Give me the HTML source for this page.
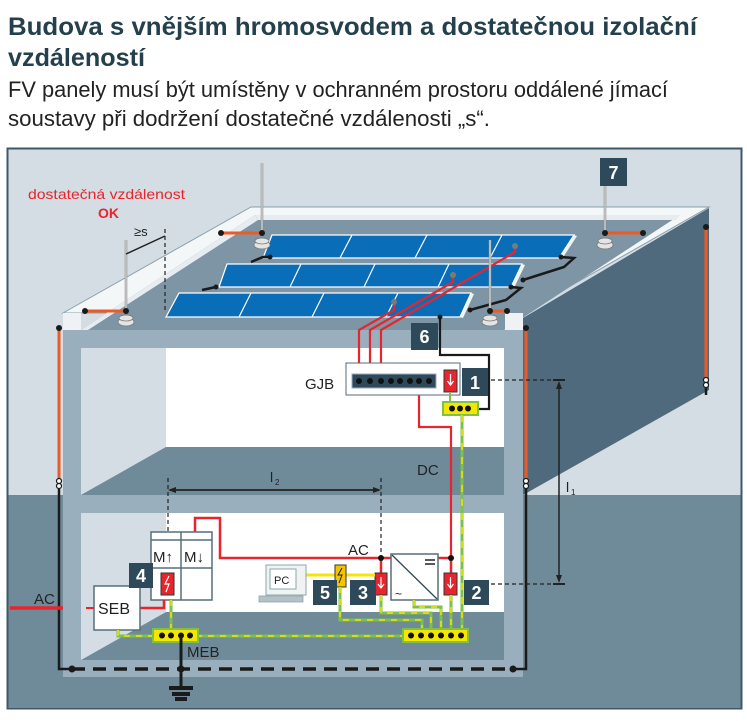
<!DOCTYPE html>
<html><head><meta charset="utf-8"><style>html,body{margin:0;padding:0;background:#fff}svg{display:block}</style></head>
<body>
<svg width="747" height="721" viewBox="0 0 747 721" xmlns="http://www.w3.org/2000/svg" font-family="Liberation Sans, sans-serif">
<text x="8" y="35" font-size="25" font-weight="bold" fill="#24404c" textLength="689" lengthAdjust="spacingAndGlyphs">Budova s vnějším hromosvodem a dostatečnou izolační</text>
<text x="8" y="66" font-size="25" font-weight="bold" fill="#24404c" textLength="137" lengthAdjust="spacingAndGlyphs">vzdáleností</text>
<text x="8" y="97" font-size="22" fill="#222" textLength="660" lengthAdjust="spacingAndGlyphs">FV panely musí být umístěny v ochranném prostoru oddálené jímací</text>
<text x="8" y="126" font-size="22" fill="#222" textLength="482" lengthAdjust="spacingAndGlyphs">soustavy při dodržení dostatečné vzdálenosti „s“.</text>

<rect x="7.5" y="148.5" width="734" height="560" fill="#d3dde3" stroke="#3f5868" stroke-width="2"/>
<rect x="8.5" y="495" width="732" height="213" fill="#6f8a99"/>
<polygon points="523,318 709,208 709,390 523,495" fill="#4e6a7c"/>
<polygon points="63,313 251,207 709,207 523,313" fill="#f4f7f8" stroke="#8aa0ad" stroke-width="1"/>
<polygon points="81,330 255,215 680,215 504,330" fill="#7d95a4"/>
<polygon points="81,330 255,215 258,220 88,330" fill="#e6ecef"/>
<polygon points="255,215 680,215 676,220 258,220" fill="#e6ecef"/>
<rect x="63" y="330" width="460" height="347" fill="#9aafbd"/>
<rect x="63" y="313" width="18" height="17" fill="#eef2f4"/>
<rect x="505" y="313" width="18" height="17" fill="#eef2f4"/>
<rect x="81" y="348" width="423" height="99" fill="#fff"/>
<polygon points="81,348 166,348 166,447 81,495" fill="#d3dde3"/>
<polygon points="81,495 166,447 504,447 504,495" fill="#6f8a99"/>
<rect x="81" y="513" width="423" height="147" fill="#fff"/>
<polygon points="81,513 166,513 166,612 81,660" fill="#d3dde3"/>
<polygon points="81,660 166,612 504,612 504,660" fill="#6f8a99"/>

<g fill="#f0f4f6"><polygon points="574,235 577,236 562,259 559,258"/><polygon points="522,264 525,265 514,288 511,287"/><polygon points="471,293 474,294 463,318 460,317"/></g>
<g stroke="#fff" stroke-width="1.2">
<polygon points="272,235 574,235 559,258 263,258" fill="#0a6db8"/>
<polygon points="227,264 522,264 511,287 219,287" fill="#0a6db8"/>
<polygon points="179,293 471,293 460,317 166,317" fill="#0a6db8"/>
<line x1="352" y1="235" x2="340" y2="258"/><line x1="427" y1="235" x2="415" y2="258"/><line x1="502" y1="235" x2="490" y2="258"/>
<line x1="301" y1="264" x2="290" y2="287"/><line x1="375" y1="264" x2="364" y2="287"/><line x1="449" y1="264" x2="438" y2="287"/>
<line x1="251" y1="293" x2="239" y2="317"/><line x1="324" y1="293" x2="312" y2="317"/><line x1="398" y1="293" x2="386" y2="317"/>
</g>
<g fill="none" stroke="#1a1a1a" stroke-width="2.5">
<polyline points="251,262 263,257 270,257"/>
<polyline points="202,290 216,287"/>
<polyline points="561,257 574,258 564,267 523,280"/>
<polyline points="511,287 521,288 506,300 470,310"/>
</g>
<g fill="#1a1a1a"><circle cx="270" cy="257" r="2.5"/><circle cx="216" cy="287" r="2.5"/><circle cx="561" cy="257" r="2.5"/><circle cx="523" cy="280" r="2.5"/><circle cx="511" cy="287" r="2.5"/><circle cx="470" cy="310" r="2.5"/></g>

<g fill="none" stroke="#e8242c" stroke-width="2.2">
<polyline points="515,246 515,252 381,330 381,381"/>
<polyline points="453,275 453,282 370,330 370,381"/>
<polyline points="394,302 394,310 359,330 359,381"/>
<polyline points="419,381 419,427 451,427 451,558"/>
<polyline points="429,381 429,369 450,369 450,372"/>
</g>
<g fill="#7a7a7a"><circle cx="515" cy="246" r="3"/><circle cx="453" cy="275" r="3"/><circle cx="394" cy="302" r="3"/></g>

<g stroke="#888" stroke-width="2.5"><line x1="126" y1="240" x2="126" y2="313"/><line x1="262" y1="163" x2="262" y2="233"/><line x1="605" y1="163" x2="605" y2="233"/><line x1="490" y1="240" x2="490" y2="313"/></g>
<g stroke="#eee" stroke-width="1"><line x1="126" y1="240" x2="126" y2="313"/><line x1="262" y1="163" x2="262" y2="233"/><line x1="605" y1="163" x2="605" y2="233"/><line x1="490" y1="240" x2="490" y2="313"/></g>
<g fill="#e4e4e4" stroke="#777" stroke-width="0.8">
<ellipse cx="126" cy="322" rx="8" ry="4"/><ellipse cx="126" cy="318" rx="7" ry="3"/>
<ellipse cx="262" cy="245" rx="8" ry="4"/><ellipse cx="262" cy="241" rx="7" ry="3"/>
<ellipse cx="605" cy="245" rx="8" ry="4"/><ellipse cx="605" cy="241" rx="7" ry="3"/>
<ellipse cx="490" cy="322" rx="8" ry="4"/><ellipse cx="490" cy="318" rx="7" ry="3"/>
</g>
<g stroke="#ee5a24" stroke-width="3" fill="none">
<line x1="85" y1="311" x2="126" y2="311"/><line x1="221" y1="233" x2="262" y2="233"/><line x1="605" y1="233" x2="643" y2="233"/><line x1="490" y1="311" x2="507" y2="311"/>
<line x1="59" y1="328" x2="59" y2="480"/><line x1="526" y1="328" x2="526" y2="480"/><line x1="706" y1="227" x2="706" y2="378"/>
</g>
<g fill="#1a1a1a"><circle cx="85" cy="311" r="3"/><circle cx="126" cy="311" r="3"/><circle cx="221" cy="233" r="3"/><circle cx="262" cy="233" r="3"/><circle cx="605" cy="233" r="3"/><circle cx="643" cy="233" r="3"/><circle cx="490" cy="311" r="3"/><circle cx="507" cy="311" r="3"/><circle cx="59" cy="328" r="3"/><circle cx="526" cy="328" r="3"/><circle cx="706" cy="227" r="3"/></g>
<g fill="#fff" stroke="#1a1a1a" stroke-width="1.2"><circle cx="59" cy="481" r="2.5"/><circle cx="59" cy="486" r="2.5"/><circle cx="526" cy="481" r="2.5"/><circle cx="526" cy="486" r="2.5"/><circle cx="706" cy="380" r="2.5"/><circle cx="706" cy="385" r="2.5"/></g>
<line x1="706" y1="388" x2="706" y2="395" stroke="#1a1a1a" stroke-width="2.5"/>
<polyline points="59,489 59,669 72,669" fill="none" stroke="#1a1a1a" stroke-width="2.5"/>
<polyline points="526,489 526,669 513,669" fill="none" stroke="#1a1a1a" stroke-width="2.5"/>
<line x1="72" y1="669" x2="513" y2="669" stroke="#1a1a1a" stroke-width="3.5" stroke-dasharray="13,8"/>
<g fill="#1a1a1a"><circle cx="72" cy="669" r="3.5"/><circle cx="181" cy="669" r="3.5"/><circle cx="513" cy="669" r="3.5"/></g>

<text x="134" y="236" font-size="13" fill="#222">≥s</text>
<line x1="126" y1="254" x2="165" y2="236" stroke="#222" stroke-width="1.5"/>
<line x1="165" y1="229" x2="165" y2="313" stroke="#222" stroke-width="1.2" stroke-dasharray="4,3"/>
<text x="28" y="199" font-size="14" fill="#e8242c" textLength="157" lengthAdjust="spacingAndGlyphs">dostatečná vzdálenost</text>
<text x="98" y="218" font-size="14" font-weight="bold" fill="#e8242c">OK</text>

<polyline points="440,317 440,355 489,355 489,409 478,409" fill="none" stroke="#1a1a1a" stroke-width="2.2"/>
<circle cx="440" cy="317" r="2.5" fill="#1a1a1a"/>

<rect x="346" y="363" width="114" height="32" fill="#fff" stroke="#566e7c" stroke-width="1"/>
<rect x="352" y="374" width="84" height="14" fill="#2e4a5a" stroke="#9ab" stroke-width="1"/>
<g fill="#111"><circle cx="359" cy="381" r="3"/><circle cx="370" cy="381" r="3"/><circle cx="381" cy="381" r="3"/><circle cx="391" cy="381" r="3"/><circle cx="400" cy="381" r="3"/><circle cx="410" cy="381" r="3"/><circle cx="419" cy="381" r="3"/><circle cx="429" cy="381" r="3"/></g>
<rect x="444" y="370" width="13" height="22" fill="#e8242c" stroke="#333" stroke-width="1"/>
<path d="M450.5 374 v10 M447.5 381 l3 4 l3 -4" stroke="#fff" stroke-width="1.3" fill="none"/>
<text x="305" y="389" font-size="15" fill="#222">GJB</text>
<line x1="450" y1="392" x2="450" y2="402" stroke="#7dc04b" stroke-width="2"/>
<rect x="443" y="402" width="35" height="13" fill="#f4e600" stroke="#7dc04b" stroke-width="2"/>
<g fill="#111"><circle cx="452" cy="408.5" r="3"/><circle cx="460" cy="408.5" r="3"/><circle cx="468" cy="408.5" r="3"/></g>
<line x1="462" y1="415" x2="462" y2="629" stroke="#7dc04b" stroke-width="3"/>
<line x1="462" y1="415" x2="462" y2="629" stroke="#f4e600" stroke-width="1.5" stroke-dasharray="7,7"/>
<text x="417" y="475" font-size="15" fill="#222">DC</text>

<line x1="491" y1="380" x2="565" y2="380" stroke="#222" stroke-width="1.3" stroke-dasharray="4,3"/>
<line x1="491" y1="584" x2="565" y2="584" stroke="#222" stroke-width="1.3" stroke-dasharray="4,3"/>
<line x1="553" y1="380" x2="565" y2="380" stroke="#222" stroke-width="2"/>
<line x1="553" y1="584" x2="565" y2="584" stroke="#222" stroke-width="2"/>
<line x1="559" y1="384" x2="559" y2="580" stroke="#222" stroke-width="1.5"/>
<path d="M556 389 L559 381 L562 389Z M556 575 L559 583 L562 575Z" fill="#222"/>
<text x="566" y="492" font-size="14" fill="#222">l</text><text x="571" y="495" font-size="8" fill="#222">1</text>

<line x1="168" y1="478" x2="168" y2="598" stroke="#222" stroke-width="1.2" stroke-dasharray="4,3"/>
<line x1="381" y1="478" x2="381" y2="557" stroke="#222" stroke-width="1.2" stroke-dasharray="4,3"/>
<line x1="170" y1="490" x2="379" y2="490" stroke="#222" stroke-width="1.8"/>
<path d="M176 487 L168 490 L176 493Z M373 487 L381 490 L373 493Z" fill="#222"/>
<text x="270" y="482" font-size="14" fill="#222">l</text><text x="275" y="485" font-size="8" fill="#222">2</text>

<polyline points="195,532 195,518 220,518 220,558 451,558" fill="none" stroke="#e8242c" stroke-width="2.5"/>
<line x1="381" y1="558" x2="381" y2="573" stroke="#e8242c" stroke-width="2.5"/>
<line x1="451" y1="558" x2="451" y2="573" stroke="#e8242c" stroke-width="2.5"/>
<circle cx="381" cy="558" r="3" fill="#111"/><circle cx="451" cy="558" r="3" fill="#111"/>
<text x="348" y="555" font-size="15" fill="#222">AC</text>
<rect x="151" y="532" width="61" height="68" fill="#fff" stroke="#566e7c" stroke-width="1.5"/>
<line x1="181" y1="532" x2="181" y2="600" stroke="#566e7c" stroke-width="1.5"/>
<line x1="151" y1="540" x2="212" y2="540" stroke="#566e7c" stroke-width="1.5"/>
<line x1="151" y1="568" x2="212" y2="568" stroke="#566e7c" stroke-width="1.5"/>
<text x="153" y="562" font-size="15" fill="#222">M↑</text><text x="184" y="562" font-size="15" fill="#222">M↓</text>
<rect x="161" y="573" width="13" height="22" fill="#e8242c" stroke="#333" stroke-width="1"/>
<path d="M169 576 l-4 8 h4 l-3 8" stroke="#fff" stroke-width="1.2" fill="none"/>
<line x1="10" y1="608" x2="63" y2="608" stroke="#e8242c" stroke-width="3.5"/>
<line x1="86" y1="608" x2="94" y2="608" stroke="#e8242c" stroke-width="2"/>
<polyline points="140,608 164,608 164,600" fill="none" stroke="#e8242c" stroke-width="2.5"/>
<text x="34" y="604" font-size="15" fill="#222">AC</text>
<rect x="94" y="586" width="46" height="44" fill="#fff" stroke="#566e7c" stroke-width="1.5"/>
<text x="98" y="614" font-size="16" fill="#222">SEB</text>

<rect x="391" y="554" width="47" height="46" fill="#fff" stroke="#566e7c" stroke-width="1.5"/>
<line x1="392" y1="555" x2="437" y2="599" stroke="#2e4a5a" stroke-width="1.3"/>
<path d="M425 560 h10 M425 564 h10" stroke="#222" stroke-width="1.5"/>
<text x="395" y="598" font-size="12" fill="#222">~</text>
<rect x="375" y="573" width="12" height="22" fill="#e8242c" stroke="#333"/>
<path d="M381 577 v10 M378 584 l3 4 l3 -4" stroke="#fff" stroke-width="1.2" fill="none"/>
<rect x="444" y="573" width="13" height="22" fill="#e8242c" stroke="#333"/>
<path d="M450.5 577 v10 M447.5 584 l3 4 l3 -4" stroke="#fff" stroke-width="1.2" fill="none"/>
<line x1="306" y1="575" x2="375" y2="575" stroke="#f4e600" stroke-width="3"/>
<rect x="335" y="565" width="11" height="22" fill="#f4c400" stroke="#333"/>
<path d="M342 568 l-4 7 h4 l-3 8" stroke="#222" stroke-width="1" fill="none"/>
<rect x="266" y="565" width="40" height="30" fill="#f0f2f4" stroke="#8aa" stroke-width="1"/>
<rect x="270" y="569" width="26" height="20" fill="#fff" stroke="#8aa"/>
<text x="274" y="584" font-size="11" fill="#222">PC</text>
<rect x="259" y="596" width="44" height="6" fill="#b7c0c6" stroke="#8aa" stroke-width="0.8"/>

<g fill="none" stroke="#7dc04b" stroke-width="3">
<polyline points="340,587 340,620 422,620 422,629"/>
<polyline points="381,595 381,613 431,613 431,629"/>
<polyline points="414,600 414,607 441,607 441,629"/>
<polyline points="451,595 451,629"/>
<polyline points="171,600 171,629"/>
<polyline points="118,630 118,636 403,636"/>
</g>
<g fill="none" stroke="#f4e600" stroke-width="1.5" stroke-dasharray="6,6">
<polyline points="340,587 340,620 422,620 422,629"/>
<polyline points="381,595 381,613 431,613 431,629"/>
<polyline points="414,600 414,607 441,607 441,629"/>
<polyline points="451,595 451,629"/>
<polyline points="171,600 171,629"/>
<polyline points="118,630 118,636 403,636"/>
</g>
<rect x="153" y="629" width="45" height="13" fill="#f4e600" stroke="#7dc04b" stroke-width="2"/>
<g fill="#111"><circle cx="162" cy="635.5" r="3"/><circle cx="171" cy="635.5" r="3"/><circle cx="181" cy="635.5" r="3"/><circle cx="190" cy="635.5" r="3"/></g>
<rect x="403" y="629" width="65" height="13" fill="#f4e600" stroke="#7dc04b" stroke-width="2"/>
<g fill="#111"><circle cx="411" cy="635.5" r="3"/><circle cx="421" cy="635.5" r="3"/><circle cx="431" cy="635.5" r="3"/><circle cx="441" cy="635.5" r="3"/><circle cx="451" cy="635.5" r="3"/><circle cx="461" cy="635.5" r="3"/></g>
<text x="187" y="657" font-size="15" fill="#222">MEB</text>
<line x1="181" y1="636" x2="181" y2="687" stroke="#1a1a1a" stroke-width="3"/>
<rect x="169" y="686" width="24" height="4" fill="#1a1a1a"/><rect x="172" y="692" width="18" height="4" fill="#1a1a1a"/><rect x="175" y="697" width="12" height="4" fill="#1a1a1a"/>

<g fill="#2e4a5a">
<rect x="600" y="158" width="27" height="28"/><rect x="411" y="323" width="27" height="27"/><rect x="462" y="368" width="26" height="28"/>
<rect x="464" y="580" width="25" height="25"/><rect x="350" y="580" width="26" height="25"/><rect x="313" y="580" width="24" height="25"/><rect x="129" y="563" width="24" height="25"/>
</g>
<g fill="#fff" font-size="18" font-weight="bold" text-anchor="middle">
<text x="613.5" y="179">7</text><text x="424.5" y="343">6</text><text x="475" y="389">1</text>
<text x="476.5" y="599">2</text><text x="363" y="599">3</text><text x="325" y="599">5</text><text x="141" y="582">4</text>
</g>
</svg>
</body></html>
